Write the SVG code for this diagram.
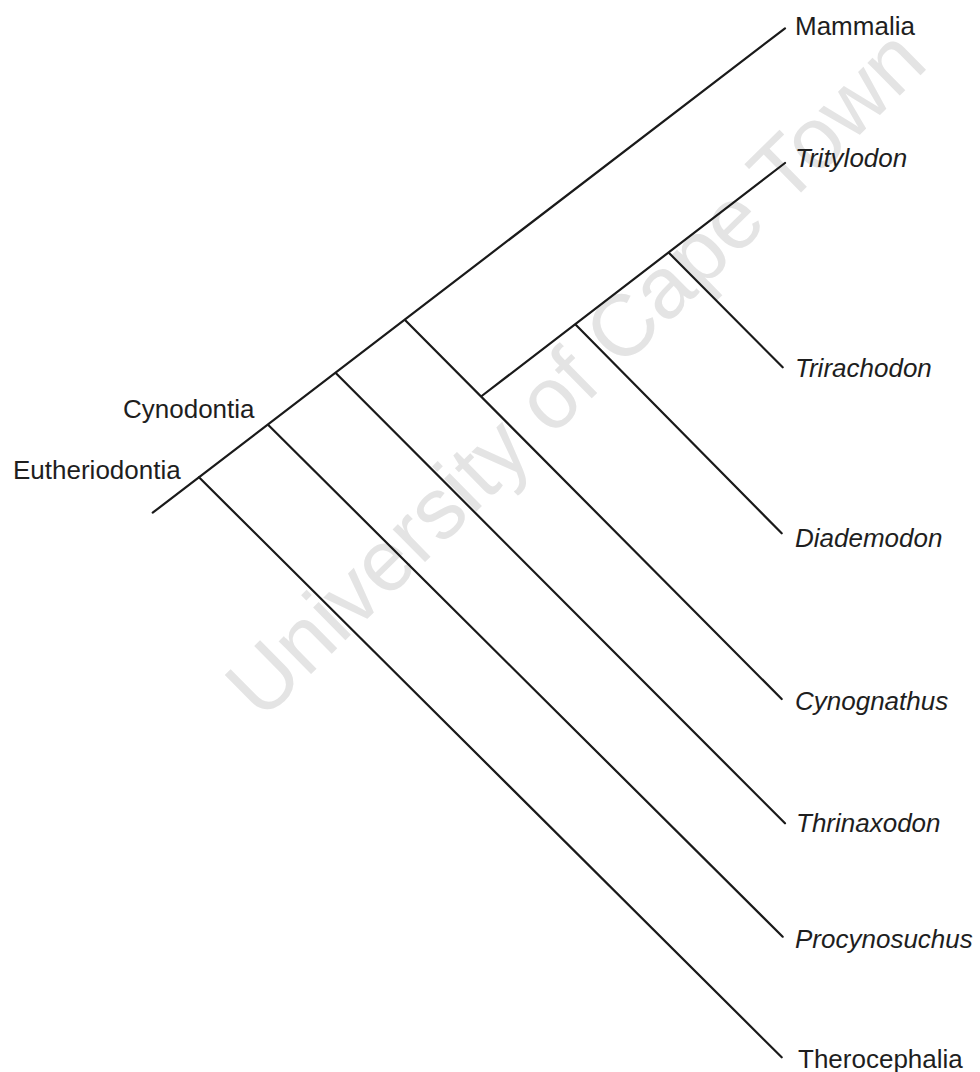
<svg xmlns="http://www.w3.org/2000/svg" width="980" height="1072" viewBox="0 0 980 1072">
<style>
.wm{font-family:"Liberation Sans",Arial,sans-serif;font-size:87px;fill:#e4e4e4}
.lbl{font-family:"Liberation Sans",Arial,sans-serif;font-size:26px;fill:#1e1e1e}
.it{font-style:italic}
.edge{stroke:#1a1a1a;stroke-width:2.2;fill:none;stroke-linecap:round}
</style>
<rect width="980" height="1072" fill="#ffffff"/>
<g id="watermark">
<text class="wm" text-anchor="middle" transform="translate(596,394) rotate(-44.5)">University of Cape Town</text>
</g>
<g id="connectors">
<line class="edge" x1="152.7" y1="512.7" x2="785" y2="28.3"/>
<line class="edge" x1="199" y1="477.3" x2="781.7" y2="1057.3"/>
<line class="edge" x1="268.3" y1="425" x2="782.7" y2="936.7"/>
<line class="edge" x1="336" y1="373.3" x2="785" y2="823.3"/>
<line class="edge" x1="405" y1="320" x2="781.7" y2="699"/>
<line class="edge" x1="481.7" y1="396" x2="785" y2="163"/>
<line class="edge" x1="576" y1="325" x2="781.7" y2="533.3"/>
<line class="edge" x1="669.3" y1="253.3" x2="782.7" y2="367.3"/>
</g>
<g id="node-eutheriodontia"><text class="lbl" x="13" y="479">Eutheriodontia</text></g>
<g id="node-cynodontia"><text class="lbl" x="123" y="418">Cynodontia</text></g>
<g id="node-mammalia"><text class="lbl" x="795" y="35">Mammalia</text></g>
<g id="node-tritylodon"><text class="lbl it" x="795" y="167">Tritylodon</text></g>
<g id="node-trirachodon"><text class="lbl it" x="795" y="377">Trirachodon</text></g>
<g id="node-diademodon"><text class="lbl it" x="795" y="547">Diademodon</text></g>
<g id="node-cynognathus"><text class="lbl it" x="795" y="710">Cynognathus</text></g>
<g id="node-thrinaxodon"><text class="lbl it" x="796" y="832">Thrinaxodon</text></g>
<g id="node-procynosuchus"><text class="lbl it" x="795" y="948">Procynosuchus</text></g>
<g id="node-therocephalia"><text class="lbl" x="798" y="1068">Therocephalia</text></g>
</svg>
